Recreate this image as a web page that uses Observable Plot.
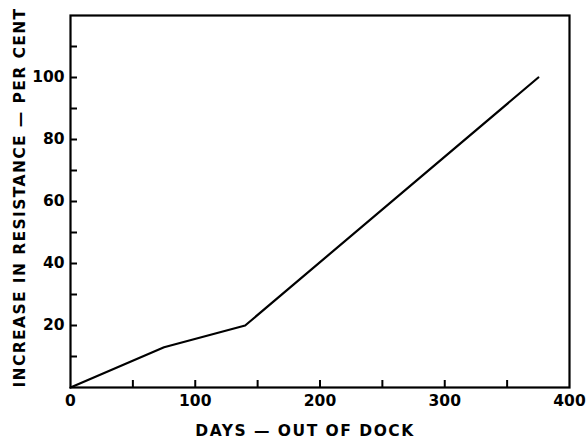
<!DOCTYPE html>
<html>
<head>
<meta charset="utf-8">
<script src="https://cdn.jsdelivr.net/npm/d3@7"></script>
<script src="https://cdn.jsdelivr.net/npm/@observablehq/plot@0.6"></script>
<style>
  html, body { margin: 0; padding: 0; background: #fff; }
  svg { font-family: "DejaVu Sans", sans-serif; }
  g[aria-label="x-axis label"] text { letter-spacing: 1.5px; }
  g[aria-label="y-axis label"] text { letter-spacing: 1.4px; }
</style>
</head>
<body>
<div id="chart"></div>
<script>
const days = [0, 75, 140, 375];
const increase = [0, 13, 20, 100];
const xTickLabels = [0, 100, 200, 300, 400];
const yTickLabels = [20, 40, 60, 80, 100];
const xTickMarks = [50, 100, 150, 200, 250, 300, 350];
const yTickMarks = [10, 20, 30, 40, 50, 60, 70, 80, 90, 100, 110];
const xTitle = "DAYS — OUT OF DOCK";
const yTitle = "INCREASE IN RESISTANCE — PER CENT";

const data = days.map((d, i) => ({days: d, inc: increase[i]}));

const W = 587, H = 438, mL = 70, mT = 15, mR = 18, mB = 51;
const innerW = W - mL - mR, innerH = H - mT - mB;

const chart = Plot.plot({
  width: W,
  height: H,
  marginLeft: mL,
  marginTop: mT,
  marginRight: mR,
  marginBottom: mB,
  style: {fontFamily: "DejaVu Sans, sans-serif", background: "#fff", color: "#000"},
  x: {domain: [0, 400]},
  y: {domain: [0, 120]},
  marks: [
    Plot.ruleX(xTickMarks, {x: d => d, insetTop: innerH - 7, stroke: "#000", strokeWidth: 2}),
    Plot.ruleY(yTickMarks, {y: d => d, insetRight: innerW - 7, stroke: "#000", strokeWidth: 2}),
    Plot.frame({stroke: "#000", strokeWidth: 2.2}),
    Plot.line(data, {x: "days", y: "inc", stroke: "#000", strokeWidth: 2.2}),
    Plot.axisX({ticks: xTickLabels, tickSize: 0, tickPadding: 7, fontSize: 15.5, fontWeight: "bold",
      label: xTitle, labelAnchor: "center", labelArrow: "none", labelOffset: 48}),
    Plot.axisY({ticks: yTickLabels, tickSize: 0, tickPadding: 6, fontSize: 15.5, fontWeight: "bold",
      label: yTitle, labelAnchor: "center", labelArrow: "none", labelOffset: 57})
  ]
});
// nudge axis titles to match the original's placement
const xl = d3.select(chart).select('g[aria-label="x-axis label"]');
xl.attr("transform", (xl.attr("transform") || "") + " translate(-15,0)");
const yl = d3.select(chart).select('g[aria-label="y-axis label"]');
yl.attr("transform", (yl.attr("transform") || "") + " translate(0,-4)");
document.getElementById("chart").appendChild(chart);
</script>
</body>
</html>
